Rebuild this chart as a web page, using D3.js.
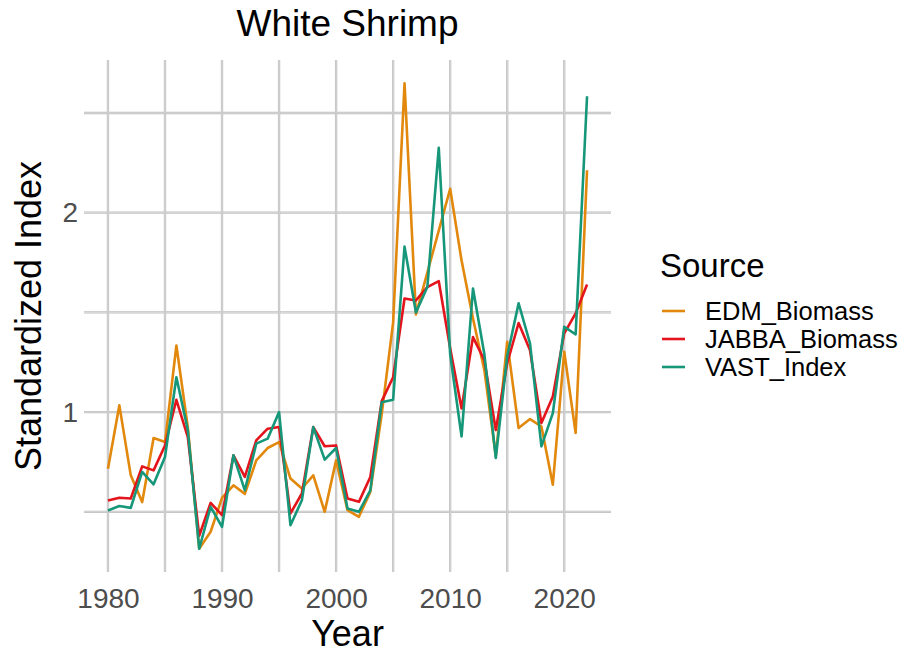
<!DOCTYPE html>
<html>
<head>
<meta charset="utf-8">
<script src="https://cdn.jsdelivr.net/npm/d3@7"></script>
<style>
  html, body { margin: 0; padding: 0; background: #ffffff; }
  svg { display: block; font-family: "Liberation Sans", Arial, sans-serif; }
</style>
</head>
<body>
<svg id="chart" width="903" height="653"></svg>
<script>
const years = d3.range(1980, 2023);
const seriesNames = ["EDM_Biomass", "JABBA_Biomass", "VAST_Index"];
const seriesColors = ["#E2880C", "#E3141C", "#16977A"];

const edmBiomass = [
  0.716, 1.034, 0.683, 0.549, 0.870, 0.850, 1.334, 0.925, 0.315, 0.400,
  0.570, 0.633, 0.590, 0.758, 0.820, 0.850, 0.667, 0.617, 0.683, 0.500,
  0.758, 0.508, 0.475, 0.600, 0.990, 1.450, 2.649, 1.490, 1.700, 1.910,
  2.120, 1.760, 1.470, 1.210, 0.780, 1.353, 0.920, 0.965, 0.928, 0.636,
  1.303, 0.895, 2.213
];
const jabbaBiomass = [
  0.557, 0.571, 0.567, 0.728, 0.708, 0.833, 1.062, 0.875, 0.380, 0.545,
  0.483, 0.783, 0.675, 0.858, 0.917, 0.925, 0.492, 0.592, 0.925, 0.829,
  0.833, 0.567, 0.550, 0.675, 1.055, 1.175, 1.570, 1.560, 1.627, 1.657,
  1.320, 1.018, 1.376, 1.260, 0.910, 1.245, 1.447, 1.310, 0.945, 1.078,
  1.395, 1.495, 1.640
];
const vastIndex = [
  0.507, 0.529, 0.520, 0.700, 0.638, 0.775, 1.175, 0.910, 0.315, 0.525,
  0.425, 0.783, 0.608, 0.842, 0.867, 1.000, 0.433, 0.558, 0.925, 0.762,
  0.820, 0.517, 0.500, 0.608, 1.050, 1.062, 1.830, 1.500, 1.627, 2.325,
  1.290, 0.878, 1.620, 1.290, 0.770, 1.280, 1.546, 1.345, 0.828, 0.995,
  1.428, 1.390, 2.584
];
const xMajorTicks = [1980, 1990, 2000, 2010, 2020];
const xMinorTicks = [1985, 1995, 2005, 2015];
const yMajorTicks = [1, 2];
const yMinorTicks = [0.5, 1.5, 2.5];

const seriesValues = [edmBiomass, jabbaBiomass, vastIndex];
const series = seriesNames.map((name, i) => ({
  name, color: seriesColors[i],
  values: years.map((y, j) => ({ year: y, value: seriesValues[i][j] }))
}));

const svg = d3.select("#chart");
const panel = { left: 84, right: 611, top: 60, bottom: 572 };

const allVals = seriesValues.flat();
const yMin = d3.min(allVals), yMax = d3.max(allVals);
const yPad = (yMax - yMin) * 0.05;
const xPad = (d3.max(years) - d3.min(years)) * 0.05;

const x = d3.scaleLinear()
  .domain([d3.min(years) - xPad, d3.max(years) + xPad])
  .range([panel.left, panel.right]);
const y = d3.scaleLinear()
  .domain([yMin - yPad, yMax + yPad])
  .range([panel.bottom, panel.top]);

// grid
const grid = svg.append("g");
function vline(v) {
  grid.append("line").attr("x1", x(v)).attr("x2", x(v))
    .attr("y1", panel.top).attr("y2", panel.bottom)
    .attr("stroke", "#bdbdbd").attr("stroke-width", 2.3);
  grid.append("line").attr("x1", x(v)).attr("x2", x(v))
    .attr("y1", panel.top).attr("y2", panel.bottom)
    .attr("stroke", "#eaeaea").attr("stroke-width", 0.7);
}
function hline(v) {
  grid.append("line").attr("y1", y(v)).attr("y2", y(v))
    .attr("x1", panel.left).attr("x2", panel.right)
    .attr("stroke", "#bdbdbd").attr("stroke-width", 2.3);
  grid.append("line").attr("y1", y(v)).attr("y2", y(v))
    .attr("x1", panel.left).attr("x2", panel.right)
    .attr("stroke", "#eaeaea").attr("stroke-width", 0.7);
}
yMinorTicks.forEach(hline);
yMajorTicks.forEach(hline);
xMinorTicks.forEach(vline);
xMajorTicks.forEach(vline);

// lines
const line = d3.line().x(d => x(d.year)).y(d => y(d.value));
svg.append("g").selectAll("path").data(series).join("path")
  .attr("d", d => line(d.values))
  .attr("fill", "none")
  .attr("stroke", d => d.color)
  .attr("stroke-width", 2.6)
  .attr("stroke-linejoin", "round")
  .attr("stroke-linecap", "butt");

// axes (no domain lines / tick marks)
const xAxis = svg.append("g")
  .attr("transform", `translate(0,${panel.bottom})`)
  .call(d3.axisBottom(x).tickValues(xMajorTicks).tickFormat(d3.format("d")).tickSize(0).tickPadding(16));
xAxis.select(".domain").remove();
xAxis.selectAll("text").attr("font-size", 28).attr("fill", "#4d4d4d")
  .attr("font-family", "Liberation Sans, Arial, sans-serif");

const yAxis = svg.append("g")
  .attr("transform", `translate(${panel.left},0)`)
  .call(d3.axisLeft(y).tickValues(yMajorTicks).tickFormat(d3.format("d")).tickSize(0).tickPadding(6));
yAxis.select(".domain").remove();
yAxis.selectAll("text").attr("font-size", 28).attr("fill", "#4d4d4d")
  .attr("font-family", "Liberation Sans, Arial, sans-serif");

// titles
svg.append("text").attr("x", (panel.left + panel.right) / 2).attr("y", 36)
  .attr("text-anchor", "middle").attr("font-size", 37).attr("fill", "#000")
  .text("White Shrimp");
svg.append("text").attr("x", (panel.left + panel.right) / 2).attr("y", 646)
  .attr("text-anchor", "middle").attr("font-size", 36).attr("fill", "#000")
  .text("Year");
svg.append("text")
  .attr("transform", `translate(41,${(panel.top + panel.bottom) / 2}) rotate(-90)`)
  .attr("text-anchor", "middle").attr("font-size", 36).attr("fill", "#000")
  .text("Standardized Index");

// legend
const legend = svg.append("g");
legend.append("text").attr("x", 660).attr("y", 277)
  .attr("font-size", 33).attr("fill", "#000").text("Source");
series.forEach((s, i) => {
  const ly = 311 + i * 28;
  legend.append("line").attr("x1", 662).attr("x2", 685).attr("y1", ly).attr("y2", ly)
    .attr("stroke", s.color).attr("stroke-width", 2.6);
  legend.append("text").attr("x", 705).attr("y", ly).attr("dy", "0.36em")
    .attr("font-size", 25.5).attr("fill", "#000").text(s.name);
});
</script>
</body>
</html>
